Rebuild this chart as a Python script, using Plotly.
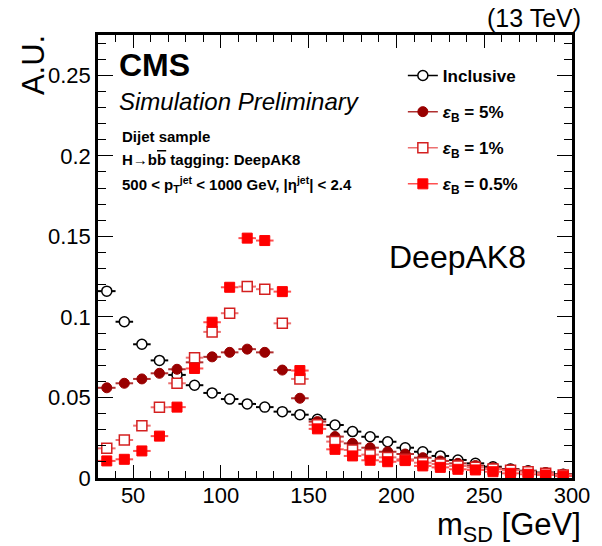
import plotly.graph_objects as go

# Bin centres of m_SD [GeV]
m_sd = [35, 45, 55, 65, 75, 85, 95, 105, 115, 125, 135, 145, 155, 165, 175,
        185, 195, 205, 215, 225, 235, 245, 255, 265, 275, 285, 295]
half_bin = [5] * len(m_sd)

inclusive = [0.116, 0.097, 0.083, 0.073, 0.064, 0.0576, 0.0528, 0.049, 0.046, 0.044,
             0.0412, 0.0393, 0.0364, 0.0329, 0.0288, 0.0256, 0.0225, 0.0188, 0.0163,
             0.0137, 0.0112, 0.0091, 0.0070, 0.0056, 0.0045, 0.0033, 0.0023]
eff_5 = [0.056, 0.0588, 0.0615, 0.065, 0.0675, 0.0718, 0.0752, 0.078, 0.080, 0.078,
         0.067, 0.0495, 0.035, 0.0257, 0.0215, 0.0188, 0.0163, 0.0149, 0.0126,
         0.0106, 0.0091, 0.0077, 0.0064, 0.0054, 0.0043, 0.0033, 0.0023]
eff_1 = [0.0184, 0.0236, 0.0325, 0.0439, 0.0588, 0.0747, 0.0907, 0.1023, 0.1188, 0.1172,
         0.096, 0.0615, 0.033, 0.0226, 0.0174, 0.0145, 0.0128, 0.0116, 0.0095,
         0.0087, 0.0075, 0.0066, 0.0056, 0.0048, 0.0039, 0.0029, 0.0019]
eff_05 = [0.0106, 0.0116, 0.0168, 0.026, 0.044, 0.068, 0.0967, 0.1184, 0.1489, 0.1474,
          0.1157, 0.0667, 0.0305, 0.0178, 0.0137, 0.0110, 0.0101, 0.0108, 0.0075,
          0.0066, 0.0054, 0.0050, 0.0039, 0.0029, 0.0023, 0.0019, 0.0012]

legend_names = ["<b>Inclusive</b>",
                "<b><i>ε</i><sub>B</sub> = 5%</b>",
                "<b><i>ε</i><sub>B</sub> = 1%</b>",
                "<b><i>ε</i><sub>B</sub> = 0.5%</b>"]

FONT = "Liberation Sans, Arial, Helvetica, sans-serif"

series = [
    dict(y=inclusive, symbol="circle", fill="white", edge="black", err="black", size=10, lw=1.5),
    dict(y=eff_5, symbol="circle", fill="#990000", edge="#990000", err="#b03030", size=10, lw=1),
    dict(y=eff_1, symbol="square", fill="white", edge="#d42020", err="#ec7070", size=10, lw=1.5),
    dict(y=eff_05, symbol="square", fill="#ff0000", edge="#ff0000", err="#ff5050", size=10, lw=1),
]

fig = go.Figure()
for i, s in enumerate(series):
    fig.add_trace(go.Scatter(
        x=m_sd, y=s["y"], mode="markers", showlegend=False,
        marker=dict(symbol=s["symbol"], size=s["size"], color=s["fill"],
                    line=dict(color=s["edge"], width=s["lw"])),
        error_x=dict(type="data", array=half_bin, color=s["err"], thickness=2, width=0),
    ))
for i, s in enumerate(series):
    fig.add_trace(go.Scatter(
        x=[None], y=[None], mode="lines+markers", name=legend_names[i],
        legendgroup="g%d" % i,
        line=dict(color=s["err"], width=1.5),
        marker=dict(symbol=s["symbol"], size=s["size"], color=s["fill"],
                    line=dict(color=s["edge"], width=s["lw"])),
    ))

axis_common = dict(
    showline=True, linecolor="black", linewidth=2.5, mirror="allticks",
    ticks="inside", tickcolor="black", tickwidth=1.2, showgrid=False, zeroline=False,
    tickfont=dict(family=FONT, size=22, color="black"),
)
fig.update_xaxes(range=[30, 300], tickvals=[50, 100, 150, 200, 250, 300], ticklen=13,
                 ticklabelstandoff=-4,
                 minor=dict(ticks="inside", dtick=10, ticklen=7, tickcolor="black", tickwidth=1.2),
                 **axis_common)
fig.update_yaxes(range=[0, 0.275], tickvals=[0, 0.05, 0.1, 0.15, 0.2, 0.25],
                 ticktext=["0", "0.05", "0.1", "0.15", "0.2", "0.25"], ticklen=15,
                 minor=dict(ticks="inside", dtick=0.01, ticklen=8, tickcolor="black", tickwidth=1.2),
                 **axis_common)

ann = []
def add(text, x, y, size, xanchor="left", yanchor="middle", angle=0):
    ann.append(dict(text=text, x=x, y=y, xref="paper", yref="paper", showarrow=False,
                    xanchor=xanchor, yanchor=yanchor, textangle=angle,
                    font=dict(family=FONT, size=size, color="black")))

W, H = 602, 546
L, R, T, B = 98, 22, 35, 68
pw, ph = W - L - R, H - T - B
def px(xp): return (xp - L) / pw
def py(yp): return (H - B - yp) / ph

add("<b>CMS</b>", px(117), py(65), 32)
add("<i>Simulation Preliminary</i>", px(117), py(101), 24)
add("<b>Dijet sample</b>", px(120), py(136), 15)
add("<b>H→b<span style='text-decoration:overline'>b</span> tagging: DeepAK8</b>", px(120), py(159), 15)
add("<b>500 &lt; p<sub>T</sub><sup>jet</sup> &lt; 1000 GeV, |η<sup>jet</sup>| &lt; 2.4</b>", px(120), py(184), 15)
add("DeepAK8", px(392), py(257), 32)
add("(13 TeV)", px(591), py(18), 25, xanchor="right")
add("A.U.", px(32), py(33), 31, xanchor="center", yanchor="top", angle=-90)
add("m<sub>SD</sub> [GeV]", px(591), py(527), 31, xanchor="right")

fig.update_layout(
    width=W, height=H, margin=dict(l=L, r=R, t=T, b=B, pad=0),
    paper_bgcolor="white", plot_bgcolor="white",
    annotations=ann,
    showlegend=True,
    legend=dict(x=px(408), y=py(58), xanchor="left", yanchor="top",
                font=dict(family=FONT, size=17, color="black"),
                tracegroupgap=11, bgcolor="rgba(0,0,0,0)", itemwidth=30),
)

fig.write_html("out.html")
